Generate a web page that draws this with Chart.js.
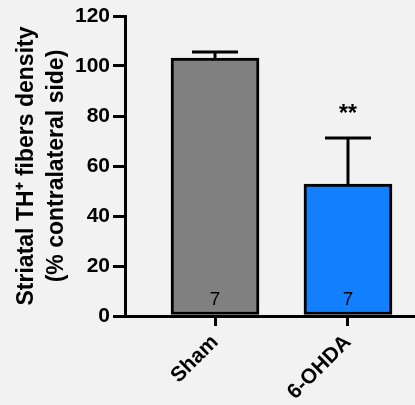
<!DOCTYPE html>
<html>
<head>
<meta charset="utf-8">
<script src="https://cdn.jsdelivr.net/npm/chart.js@4"></script>
<style>
  html, body { margin: 0; padding: 0; background: #f2f2f2; }
  #wrap { width: 415px; height: 405px; }
</style>
</head>
<body>
<div id="wrap"><canvas id="myChart"></canvas></div>
<script>
const groups = ['Sham', '6-OHDA']
const means = [103.2, 52.8]
const sems = [2.4, 18.4]
const n_values = ['7', '7']
const stars = ['', '**']
const bar_colors = ['#808080', '#1280fe']
const y_ticks = [0, 20, 40, 60, 80, 100, 120]

const ctx = document.getElementById('myChart');

// error bars, n per group and significance marks
const extras = {
    id: 'extras',
    afterDatasetsDraw(chart) {
        const c = chart.ctx
        const xs = chart.scales.x
        const ys = chart.scales.y
        c.save()
        c.strokeStyle = '#000'
        c.fillStyle = '#000'
        c.lineWidth = 3
        means.forEach((m, i) => {
            const x = xs.getPixelForValue(i)
            const top = ys.getPixelForValue(m)
            const cap = ys.getPixelForValue(m + sems[i])
            c.beginPath()
            c.moveTo(x, top)
            c.lineTo(x, cap)
            c.moveTo(x - 23, cap)
            c.lineTo(x + 23, cap)
            c.stroke()

            c.textAlign = 'center'
            c.textBaseline = 'alphabetic'
            c.font = '19px "Liberation Sans", Arial, sans-serif'
            c.fillText(n_values[i], x, ys.getPixelForValue(0) - 11)

            if (stars[i]) {
                c.font = 'bold 23px "Liberation Sans", Arial, sans-serif'
                c.fillText(stars[i], x, cap - 17)
            }
        })
        c.restore()
    }
}

new Chart(ctx, {
type: 'bar',
data: {
    datasets: [{
    data: means.map((m, i) => ({x: i, y: m})),
    backgroundColor: bar_colors,
    borderColor: '#000',
    borderWidth: 3,
    borderSkipped: false,
    barThickness: 88
    }]
},
options: {
    responsive: true,
    maintainAspectRatio: false,
    animation: false,
    layout: { padding: { top: 16, right: 0, left: 0, bottom: 0 } },
    plugins: {
        legend: { display: false },
        tooltip: { enabled: false }
    },
    scales: {
    x: {
        type: 'linear',
        min: -0.677,
        max: 1.504,
        offset: false,
        afterBuildTicks: (scale) => { scale.ticks = groups.map((g, i) => ({value: i})) },
        afterFit: (scale) => { scale.height = 89 },
        grid: { offset: false, drawOnChartArea: false, drawTicks: true, tickLength: 10, lineWidth: 3, color: '#000' },
        border: { display: true, width: 3, color: '#000' },
        ticks: {
            autoSkip: false,
            minRotation: 45,
            maxRotation: 45,
            padding: 4,
            color: '#000',
            font: { family: '"Liberation Sans", Arial, sans-serif', size: 21, weight: 'bold' },
            callback: (v) => groups[v]
        }
    },
    y: {
        min: 0,
        max: 120,
        afterBuildTicks: (scale) => { scale.ticks = y_ticks.map(v => ({value: v})) },
        afterFit: (scale) => { scale.width = 125 },
        grid: { drawOnChartArea: false, drawTicks: true, tickLength: 12, lineWidth: 3, color: '#000' },
        border: { display: true, width: 3, color: '#000' },
        ticks: {
            padding: 3,
            color: '#000',
            font: { family: '"Liberation Sans", Arial, sans-serif', size: 21, weight: 'bold' }
        },
        title: {
            display: true,
            text: ['Striatal TH\u207A fibers density', '(% contralateral side)'],
            color: '#000',
            padding: { top: 12, bottom: 0 },
            font: { family: '"Liberation Sans", Arial, sans-serif', size: 23, weight: 'bold', lineHeight: 1.3 }
        }
    }
    }
},
plugins: [extras]
});
</script>
</body>
</html>
